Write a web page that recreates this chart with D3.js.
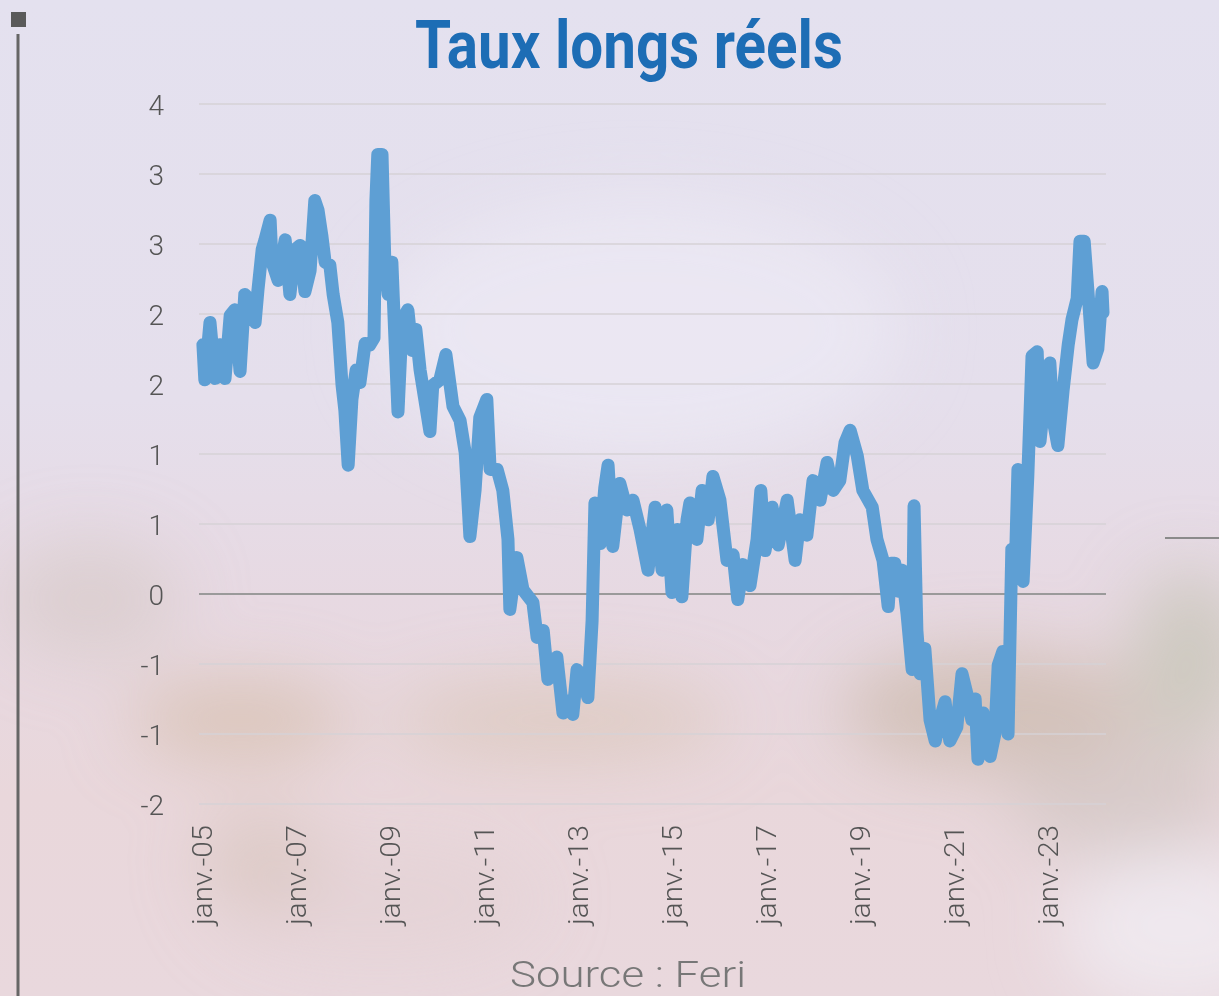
<!DOCTYPE html>
<html><head><meta charset="utf-8">
<script src="https://cdn.jsdelivr.net/npm/d3@7"></script>
<style>html,body{margin:0;padding:0;background:#e5e0ec;overflow:hidden}</style>
</head><body>
<script>
// ---- data ----
const title = "Taux longs réels";
const source = "Source : Feri";
const years = [2005.02,2005.06,2005.17,2005.28,2005.38,2005.49,2005.60,2005.70,2005.81,2005.91,
2006.02,2006.13,2006.19,2006.28,2006.34,2006.45,2006.49,2006.62,2006.77,2006.87,2006.98,
2007.09,2007.19,2007.30,2007.40,2007.47,2007.55,2007.62,2007.72,2007.79,2007.89,2007.98,
2008.04,2008.11,2008.19,2008.28,2008.36,2008.47,2008.57,2008.66,2008.70,2008.74,2008.83,2008.89,2008.96,
2009.04,2009.11,2009.17,2009.26,2009.38,2009.47,2009.55,2009.64,2009.74,2009.85,2009.91,
2010.06,2010.19,2010.34,2010.49,2010.60,2010.70,2010.81,2010.91,
2011.06,2011.13,2011.28,2011.40,2011.51,2011.55,2011.70,2011.83,
2012.04,2012.13,2012.26,2012.36,2012.55,2012.68,2012.83,2012.89,2012.98,
2013.11,2013.21,2013.30,2013.36,2013.47,2013.57,2013.64,2013.74,2013.89,
2014.04,2014.17,2014.32,2014.49,2014.64,2014.79,2014.89,
2015.00,2015.11,2015.21,2015.32,2015.38,2015.53,2015.64,2015.77,2015.87,
2016.02,2016.17,2016.30,2016.40,2016.51,2016.66,2016.81,2016.89,2016.98,
2017.13,2017.26,2017.45,2017.62,2017.72,2017.87,
2018.00,2018.15,2018.30,2018.43,2018.57,2018.68,2018.79,2018.94,
2019.06,2019.26,2019.36,2019.49,2019.60,2019.66,2019.74,2019.81,2019.89,
2020.00,2020.11,2020.15,2020.21,2020.28,2020.38,2020.49,2020.60,2020.70,2020.81,2020.91,
2021.06,2021.17,2021.28,2021.38,2021.45,2021.51,2021.62,2021.77,2021.87,2021.94,
2022.04,2022.15,2022.23,2022.30,2022.36,2022.47,2022.57,2022.66,2022.77,2022.83,2022.94,
2023.04,2023.11,2023.21,2023.32,2023.43,2023.51,2023.62,2023.68,2023.77,2023.85,2023.96,
2024.06,2024.15,2024.17];
const values = [1.78,1.53,1.94,1.54,1.78,1.54,1.99,2.03,1.59,2.14,
2.10,1.94,2.17,2.46,2.53,2.67,2.37,2.24,2.53,2.14,2.46,
2.49,2.16,2.31,2.81,2.74,2.56,2.37,2.35,2.14,1.94,1.49,
1.31,0.92,1.39,1.60,1.51,1.79,1.78,1.83,2.81,3.14,3.14,2.37,2.14,
2.37,1.78,1.30,1.96,2.03,1.74,1.89,1.60,1.39,1.16,1.49,
1.53,1.71,1.34,1.24,1.01,0.41,0.74,1.26,
1.39,0.89,0.89,0.74,0.39,-0.11,0.26,0.03,
-0.06,-0.31,-0.26,-0.61,-0.45,-0.85,-0.76,-0.86,-0.54,
-0.61,-0.74,-0.19,0.65,0.36,0.76,0.92,0.34,0.79,
0.60,0.67,0.46,0.17,0.62,0.17,0.60,
0.01,0.46,-0.02,0.53,0.65,0.39,0.74,0.53,0.84,
0.67,0.24,0.28,-0.04,0.21,0.06,0.39,0.74,0.31,
0.62,0.35,0.67,0.24,0.53,0.42,
0.81,0.67,0.94,0.74,0.81,1.08,1.17,0.99,
0.74,0.62,0.39,0.24,-0.09,0.22,0.22,0.02,0.17,
-0.14,-0.54,0.63,-0.26,-0.57,-0.39,-0.90,-1.05,-0.90,-0.77,-1.05,
-0.95,-0.57,-0.72,-0.90,-0.75,-1.18,-0.85,-1.16,-1.00,-0.51,
-0.41,-1.00,0.32,0.12,0.89,0.09,0.84,1.70,1.73,1.09,1.45,
1.65,1.24,1.06,1.45,1.78,1.96,2.11,2.52,2.52,2.16,1.65,
1.75,2.16,2.01];
const yTicks = [-1.5,-1,-0.5,0,0.5,1,1.5,2,2.5,3,3.5];
const yTickLabels = ["-2","-1","-1","0","1","1","2","2","3","3","4"];
const xTicks = [2005,2007,2009,2011,2013,2015,2017,2019,2021,2023];
const xTickLabels = ["janv.-05","janv.-07","janv.-09","janv.-11","janv.-13","janv.-15","janv.-17","janv.-19","janv.-21","janv.-23"];

// ---- drawing ----
const W = 1219, H = 996;
const svg = d3.select("body").append("svg").attr("width", W).attr("height", H);
const defs = svg.append("defs");
const lg = defs.append("linearGradient").attr("id","bg").attr("x1",0).attr("y1",0).attr("x2",0).attr("y2",1);
[[0,"#e4e1ef"],[0.4,"#e5dfec"],[0.6,"#e7d9e2"],[0.8,"#e9d7db"],[1,"#e9d8dd"]].forEach(([o,c])=>lg.append("stop").attr("offset",o).attr("stop-color",c));
defs.append("filter").attr("id","blur").attr("x","-50%").attr("y","-50%").attr("width","200%").attr("height","200%")
  .append("feGaussianBlur").attr("stdDeviation",34);

svg.append("rect").attr("width",W).attr("height",H).attr("fill","url(#bg)");
const blobs = [
  [640,330,260,130,"#ebe8f3",0.9],
  [240,720,110,40,"#d5bfae",0.75],
  [560,720,170,40,"#d9c4b6",0.65],
  [990,710,150,60,"#cbb9ac",0.75],
  [1190,660,60,90,"#c6c4b6",0.75],
  [1120,800,110,60,"#cdc3be",0.6],
  [90,600,90,60,"#d3c6c2",0.55],
  [1180,930,120,80,"#f0ecf2",0.8],
  [380,900,160,60,"#e2d1d4",0.6],
  [260,860,60,50,"#d6c2b8",0.6]
];
svg.append("g").attr("filter","url(#blur)").selectAll("ellipse").data(blobs).join("ellipse")
  .attr("cx",d=>d[0]).attr("cy",d=>d[1]).attr("rx",d=>d[2]).attr("ry",d=>d[3])
  .attr("fill",d=>d[4]).attr("opacity",d=>d[5]);

// decorations
svg.append("rect").attr("x",11).attr("y",12).attr("width",15).attr("height",15).attr("fill","#5a5a5a");
svg.append("line").attr("x1",18).attr("x2",18).attr("y1",34).attr("y2",H).attr("stroke","#666").attr("stroke-width",3);
svg.append("line").attr("x1",1165).attr("x2",W).attr("y1",538).attr("y2",538).attr("stroke","#8a8a8a").attr("stroke-width",2);

const x = d3.scaleLinear().domain([2005, 2024.17]).range([202, 1103]);
const y = d3.scaleLinear().domain([-1.5, 3.5]).range([804, 104]);

// grid
svg.append("g").selectAll("line").data(yTicks).join("line")
  .attr("x1",199).attr("x2",1106)
  .attr("y1",d=>y(d)).attr("y2",d=>y(d))
  .attr("stroke",d=>d===0?"#9a9a9a":"#d6d2d6").attr("stroke-width",d=>d===0?2:1.5);

// y axis labels
const yAxis = d3.axisLeft(y).tickValues(yTicks).tickFormat((d,i)=>yTickLabels[i]).tickSize(0).tickPadding(0);
const gy = svg.append("g").attr("transform","translate(164,0)").call(yAxis);
gy.select(".domain").remove();
gy.selectAll("text").attr("font-family","Roboto, sans-serif").attr("font-weight",300)
  .attr("font-size",28).attr("fill","#555").attr("dy","0.36em");

// x axis labels
const xAxis = d3.axisBottom(x).tickValues(xTicks).tickFormat((d,i)=>xTickLabels[i]).tickSize(0).tickPadding(0);
const gx = svg.append("g").attr("transform","translate(0,825)").call(xAxis);
gx.select(".domain").remove();
gx.selectAll("text").attr("font-family","Roboto, sans-serif").attr("font-weight",300)
  .attr("font-size",28).attr("fill","#555")
  .attr("transform","rotate(-90)").attr("text-anchor","end").attr("x",0).attr("y",0).attr("dy","0.35em")
  .attr("textLength",100).attr("lengthAdjust","spacingAndGlyphs");

// series
const line = d3.line().x((d,i)=>x(years[i])).y(d=>y(d));
svg.append("path").datum(values).attr("d",line).attr("fill","none")
  .attr("stroke","#5e9fd4").attr("stroke-width",13).attr("stroke-linejoin","round").attr("stroke-linecap","round");

// title & source
svg.append("text").attr("x",629).attr("y",68).attr("text-anchor","middle")
  .attr("font-family","Roboto, sans-serif").attr("font-weight",700).attr("font-size",66)
  .attr("fill","#1d6db5").attr("textLength",428).attr("lengthAdjust","spacingAndGlyphs").text(title);
svg.append("text").attr("x",628).attr("y",987).attr("text-anchor","middle")
  .attr("font-family","Roboto, sans-serif").attr("font-weight",300).attr("font-size",37)
  .attr("fill","#777").attr("textLength",236).attr("lengthAdjust","spacingAndGlyphs").text(source);
</script>
</body></html>
